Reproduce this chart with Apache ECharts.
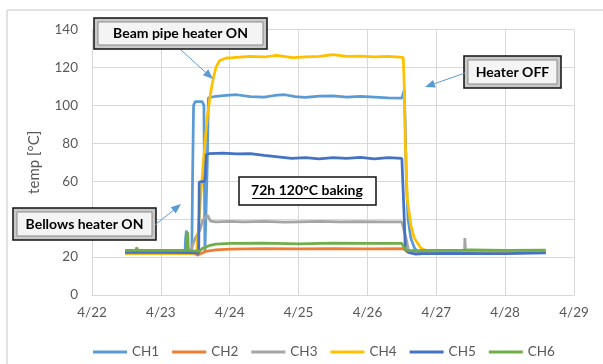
<!DOCTYPE html>
<html><head><meta charset="utf-8">
<script src="https://cdn.jsdelivr.net/npm/echarts@6/dist/echarts.min.js"></script>
<style>html,body{margin:0;padding:0;background:#fff}#c{width:603px;height:364px}</style>
</head><body><div id="c"></div>
<script>
// x = days since 4/22 00:00
const xTickLabels = ['4/22','4/23','4/24','4/25','4/26','4/27','4/28','4/29'];
const seriesNames = ['CH1','CH2','CH3','CH4','CH5','CH6'];

const ch1 = [[0.48,22.5],[0.7,22.6],[1.0,22.4],[1.35,22.5],[1.36,30],[1.372,34],[1.385,22.8],[1.45,22.6],[1.46,60],[1.475,100],[1.50,102],[1.60,102],[1.625,100],[1.64,23],[1.665,23],[1.675,70],[1.69,104],[1.8,104.8],[1.95,105.2],[2.1,105.6],[2.3,104.6],[2.5,104.3],[2.65,105.2],[2.8,105.6],[2.95,104.6],[3.1,104.2],[3.3,104.9],[3.5,105],[3.7,104.4],[3.9,104.8],[4.1,104.4],[4.3,104],[4.5,103.8],[4.52,104],[4.535,108],[4.545,109],[4.55,88],[4.565,60],[4.59,40],[4.63,30],[4.68,25],[4.72,23],[4.8,22.4],[5.0,22.3],[5.4,22.5],[5.8,22.2],[6.2,22.4],[6.59,22.5]];
const ch2 = [[0.48,22],[0.8,22.1],[1.2,22],[1.5,22],[1.53,21],[1.56,21.5],[1.65,23],[1.8,23.8],[2.0,24.2],[2.5,24.4],[3.0,24.3],[3.5,24.4],[4.0,24.3],[4.5,24.4],[4.53,24.2],[4.6,22.3],[4.7,22],[5.0,22.3],[6.0,22.3],[6.59,22.3]];
const ch3 = [[0.48,22.6],[0.64,23],[0.65,25],[0.66,23],[1.0,22.7],[1.4,22.7],[1.44,24],[1.5,30],[1.565,34],[1.61,39.5],[1.68,42],[1.72,39],[1.8,38.6],[2.0,38.8],[2.2,38.5],[2.5,38.8],[2.8,38.4],[3.0,38.6],[3.3,38.8],[3.6,38.5],[3.9,38.7],[4.2,38.6],[4.5,38.6],[4.52,38.5],[4.56,30],[4.6,23],[4.8,22.6],[5.0,22.8],[5.41,22.8],[5.415,30],[5.425,23.5],[5.43,22.8],[5.8,22.7],[6.59,22.6]];
const ch4 = [[0.48,22],[1.0,22],[1.45,22],[1.52,23],[1.565,45],[1.60,62],[1.64,80],[1.675,94],[1.72,106],[1.76,114],[1.80,120],[1.855,123.7],[1.95,125],[2.04,125.2],[2.29,125.8],[2.5,125.5],[2.68,126.3],[2.91,125.2],[3.1,125.6],[3.3,125.8],[3.5,126.7],[3.7,125.8],[3.9,126],[4.1,125.6],[4.3,125.8],[4.52,125.3],[4.535,110],[4.55,80],[4.58,50],[4.63,37],[4.68,30],[4.77,25],[4.87,23],[5.0,22.3],[6.0,22.2],[6.59,22.3]];
const ch5 = [[0.48,22.5],[1.0,22.5],[1.5,22.3],[1.55,22],[1.553,40],[1.557,59.5],[1.635,60],[1.645,62],[1.66,74],[1.7,74.6],[1.9,74.8],[2.1,74.4],[2.3,74.5],[2.5,73.6],[2.7,72.8],[2.9,72],[3.1,72.4],[3.3,71.8],[3.5,72.5],[3.7,72],[3.9,72.6],[4.1,71.8],[4.3,72.4],[4.5,72],[4.52,72],[4.535,40],[4.55,24],[4.6,22.5],[4.7,21.5],[4.8,21.8],[5.2,22],[6.0,21.8],[6.59,22.2]];
const ch6 = [[0.48,23.5],[0.64,23.5],[0.65,25],[0.66,23.5],[1.0,23.5],[1.38,23.5],[1.39,33],[1.40,23.5],[1.5,23.2],[1.56,23],[1.6,24.5],[1.7,26],[1.8,26.8],[2.0,27.2],[2.5,27.4],[3.0,27],[3.5,27.3],[4.0,27.2],[4.5,27.2],[4.52,27],[4.55,24],[4.6,23.4],[5.0,23.5],[5.4,23.6],[5.5,23.8],[6.0,23.5],[6.59,23.6]];

const seriesData = [ch1, ch2, ch3, ch4, ch5, ch6];
const colors = ['#5B9BD5','#ED7D31','#A5A5A5','#FFC000','#4472C4','#70AD47'];

const FONT = 'Lato';
function arrow(x1,y1,x2,y2,color){
  const dx=x2-x1, dy=y2-y1, L=Math.hypot(dx,dy), ux=dx/L, uy=dy/L;
  const hl=10, hw=4;
  const bx=x2-ux*hl, by=y2-uy*hl;
  return [
    {type:'line',shape:{x1:x1,y1:y1,x2:bx,y2:by},style:{stroke:color,lineWidth:1},z:100},
    {type:'polygon',shape:{points:[[x2,y2],[bx-uy*hw,by+ux*hw],[bx+uy*hw,by-ux*hw]]},style:{fill:color},z:100}
  ];
}
function bevelBox(x,y,w,h,text){
  return [
    {type:'rect',shape:{x:x,y:y,width:w,height:h},style:{fill:'#c9c9c9',stroke:'#111',lineWidth:1.5},z:100},
    {type:'rect',shape:{x:x+4,y:y+4,width:w-8,height:h-8},style:{fill:'#f4f4f4',stroke:'#8a8a8a',lineWidth:1},z:101},
    {type:'text',x:x+w/2,y:y+h/2,style:{text:text,font:'bold 14px '+FONT,fill:'#000',align:'center',verticalAlign:'middle'},z:102}
  ];
}

const graphics = [
  {type:'line',shape:{x1:7,y1:10,x2:603,y2:10},style:{stroke:'#D9D9D9',lineWidth:1.5}},
  {type:'line',shape:{x1:7,y1:10,x2:7,y2:364},style:{stroke:'#D9D9D9',lineWidth:1.5}},
  ...bevelBox(94,18,173,31,'Beam pipe heater ON'),
  ...bevelBox(464,56,97,32,'Heater OFF'),
  ...bevelBox(13,208,143,32,'Bellows heater ON'),
  {type:'rect',shape:{x:239,y:177,width:137,height:28},style:{fill:'#fff',stroke:'#111',lineWidth:1.5},z:100},
  {type:'text',x:307,y:190,style:{text:'72h 120°C baking',font:'bold 14px '+FONT,fill:'#000',align:'center',verticalAlign:'middle'},z:102},
  {type:'line',shape:{x1:252,y1:198.5,x2:362,y2:198.5},style:{stroke:'#000',lineWidth:1},z:102},
  ...arrow(181,50,213,79,'#5B9BD5'),
  ...arrow(465,73,425,87,'#5B9BD5'),
  ...arrow(155,225,181,204,'#5B9BD5')
];

const chart = echarts.init(document.getElementById('c'), null, {renderer:'canvas'});
chart.setOption({
  animation:false,
  backgroundColor:'#fff',
  color: colors,
  textStyle:{fontFamily:FONT},
  grid:{left:92,right:29,top:29.5,bottom:69,containLabel:false},
  xAxis:{type:'value',min:0,max:7,interval:1,
    axisLine:{show:true,lineStyle:{color:'#D9D9D9',width:1}},
    axisTick:{show:false},
    splitLine:{show:true,lineStyle:{color:'#D9D9D9',width:1}},
    axisLabel:{color:'#595959',fontSize:13.5,fontFamily:FONT,margin:11,formatter:v=>xTickLabels[Math.round(v)]}
  },
  yAxis:{type:'value',min:0,max:140,interval:20,
    name:'temp [°C]',nameLocation:'middle',nameGap:50,nameRotate:90,
    nameTextStyle:{color:'#595959',fontSize:15,fontFamily:FONT},
    axisLine:{show:false},axisTick:{show:false},
    splitLine:{show:true,lineStyle:{color:'#D9D9D9',width:1}},
    axisLabel:{color:'#595959',fontSize:13.5,fontFamily:FONT,margin:14}
  },
  legend:{left:88,top:340,icon:'rect',itemWidth:34,itemHeight:3,itemGap:13,
    textStyle:{color:'#595959',fontSize:13.5,fontFamily:FONT},
    data:seriesNames},
  series: seriesNames.map((n,i)=>({name:n,type:'line',data:seriesData[i],showSymbol:false,symbol:'none',
    lineStyle:{width:2.75,color:colors[i]},itemStyle:{color:colors[i]}})),
  graphic: graphics
});
</script></body></html>
